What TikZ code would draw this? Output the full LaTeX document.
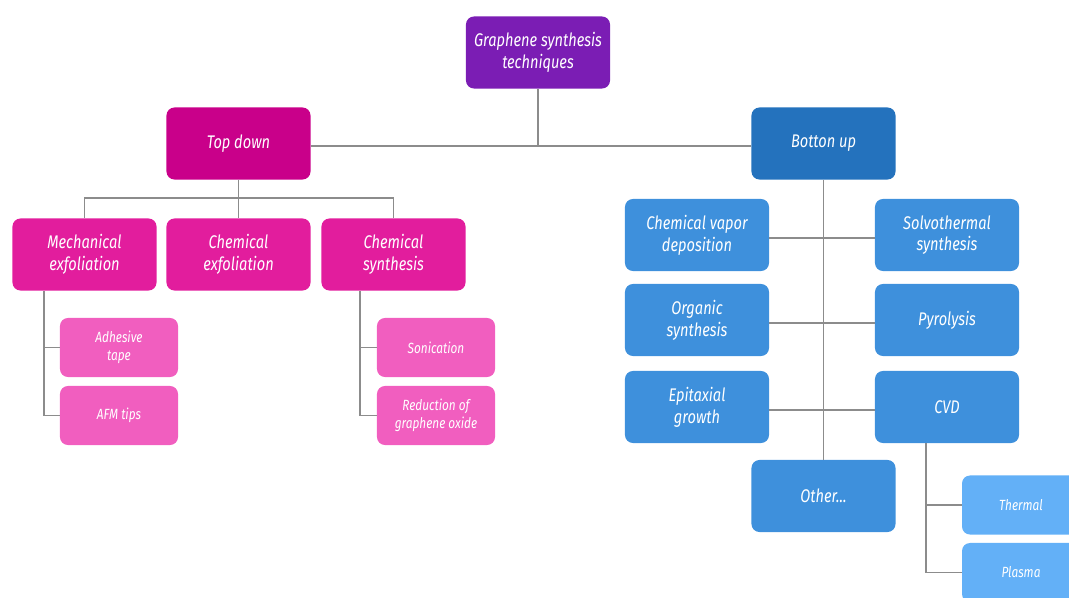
\documentclass[tikz,border=0pt]{standalone}
\usepackage{fontspec}
\setmainfont{Fira Sans}[FakeStretch=0.8]
\usetikzlibrary{calc}

\definecolor{rootc}{HTML}{7B1DB4}
\definecolor{tdc}{HTML}{C9008A}
\definecolor{tdmid}{HTML}{E21D9D}
\definecolor{tdlow}{HTML}{F15EBF}
\definecolor{buc}{HTML}{2472BD}
\definecolor{bumid}{HTML}{3E90DC}
\definecolor{bulow}{HTML}{63B0F7}
\definecolor{wire}{HTML}{8C8C8C}

\begin{document}
\begin{tikzpicture}[x=0.025cm,y=-0.025cm,
  every node/.style={text=white,align=center,rounded corners=0.2cm,inner sep=0pt},
  bigbox/.style={minimum width=3.6cm,minimum height=1.8cm,font=\fontsize{13}{15.5}\selectfont\itshape},
  smallbox/.style={minimum width=2.95cm,minimum height=1.475cm,font=\fontsize{10.5}{13}\selectfont\itshape},
  wires/.style={wire,line width=0.9pt}]

\clip (0,0) rectangle (1069,597);
\useasboundingbox (0,0) rectangle (1069,597);

% top of the tree
\node [bigbox,fill=rootc] (root) at (538,52.5) {Graphene synthesis\\techniques};
\node [bigbox,fill=tdc] (td) at (238.5,143.5) {Top down};
\node [bigbox,fill=buc] (bu) at (823.5,143.5) {Botton up};

% top down branch
\node [bigbox,fill=tdmid] (mech) at (84.5,254.5) {Mechanical\\exfoliation};
\node [bigbox,fill=tdmid] (chx) at (238.5,254.5) {Chemical\\exfoliation};
\node [bigbox,fill=tdmid] (chs) at (393.5,254.5) {Chemical\\synthesis};

\node [smallbox,fill=tdlow] (tape) at (119,347.5) {Adhesive\\tape};
\node [smallbox,fill=tdlow] (afm) at (119,415.5) {AFM tips};
\node [smallbox,fill=tdlow] (son) at (436,347.5) {Sonication};
\node [smallbox,fill=tdlow] (red) at (436,415.5) {Reduction of\\graphene oxide};

% bottom up branch
\node [bigbox,fill=bumid] (cvdep) at (697,235) {Chemical vapor\\deposition};
\node [bigbox,fill=bumid] (org) at (697,320) {Organic\\synthesis};
\node [bigbox,fill=bumid] (epi) at (697,407) {Epitaxial\\growth};
\node [bigbox,fill=bumid] (solv) at (947,235) {Solvothermal\\synthesis};
\node [bigbox,fill=bumid] (pyro) at (947,320) {Pyrolysis};
\node [bigbox,fill=bumid] (cvd) at (947,407) {CVD};
\node [bigbox,fill=bumid] (oth) at (823.5,496) {Other...};

\node [smallbox,fill=bulow] (therm) at (1021,505) {Thermal};
\node [smallbox,fill=bulow] (plas) at (1021,572.5) {Plasma};

\coordinate (topbus) at (538,146);
\coordinate (tdbus) at (238.5,198);
\coordinate (mechstem) at (44,291);
\coordinate (chsstem) at (360,291);
\coordinate (cvdstem) at (926,443);

\draw [wires] (root.south) -- (topbus);
\draw [wires] (td.east |- topbus) -- (bu.west |- topbus);

\draw [wires] (td.south) -- (chx.north);
\draw [wires] (mech.north) -- (mech.north |- tdbus) -- (chs.north |- tdbus) -- (chs.north);

\draw [wires] (mechstem) |- (afm.west);
\draw [wires] (mechstem |- tape.west) -- (tape.west);
\draw [wires] (chsstem) |- (red.west);
\draw [wires] (chsstem |- son.west) -- (son.west);

\draw [wires] (bu.south) -- (oth.north);
\draw [wires] ([yshift=-3*0.025cm]cvdep.east) -- ([yshift=-3*0.025cm]solv.west);
\draw [wires] ([yshift=-3*0.025cm]org.east) -- ([yshift=-3*0.025cm]pyro.west);
\draw [wires] ([yshift=-3*0.025cm]epi.east) -- ([yshift=-3*0.025cm]cvd.west);

\draw [wires] (cvdstem) |- (plas.west);
\draw [wires] (cvdstem |- therm.west) -- (therm.west);

\end{tikzpicture}
\end{document}
